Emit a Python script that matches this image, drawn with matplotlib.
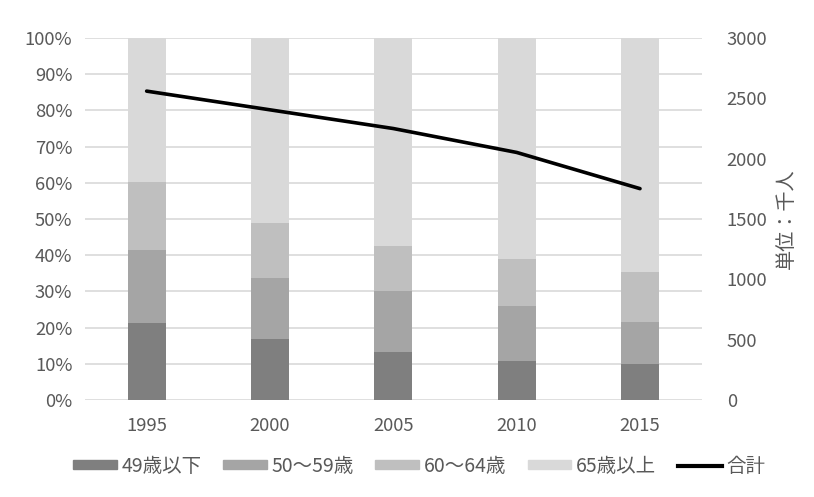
import numpy as np
import matplotlib.pyplot as plt
from matplotlib.patches import Patch
from matplotlib.lines import Line2D
from matplotlib.ticker import PercentFormatter

plt.rcParams['font.family'] = ['Noto Sans CJK JP', 'DejaVu Sans']

# データ
years = ["1995", "2000", "2005", "2010", "2015"]
share_49 = [21.3, 16.8, 13.2, 10.8, 10.1]
share_50_59 = [20.1, 17.0, 16.9, 15.1, 11.4]
share_60_64 = [18.7, 15.0, 12.4, 13.0, 13.9]
share_65 = [39.9, 51.2, 57.5, 61.1, 64.6]
total = [2560, 2405, 2250, 2052, 1752]

labels = ["49歳以下", "50～59歳", "60～64歳", "65歳以上"]
colors = ["#7f7f7f", "#a5a5a5", "#bfbfbf", "#d9d9d9"]
txt = "#595959"

fig = plt.figure(figsize=(8.14, 4.97), dpi=100)
ax = fig.add_axes([0.1044, 0.195, 0.7576, 0.7285])
x = np.arange(len(years))

bottom = np.zeros(len(years))
for vals, c in zip([share_49, share_50_59, share_60_64, share_65], colors):
    v = np.array(vals) / 100
    ax.bar(x, v, 0.31, bottom=bottom, color=c, zorder=2)
    bottom += v

ax.set_ylim(0, 1)
ax.set_xlim(-0.5, len(years) - 0.5)
ax.set_yticks(np.arange(0, 1.01, 0.1))
ax.yaxis.set_major_formatter(PercentFormatter(1.0, decimals=0))
ax.set_xticks(x)
ax.set_xticklabels(years)
ax.grid(axis="y", color="#d9d9d9", lw=1.2)
ax.set_axisbelow(True)

ax2 = ax.twinx()
ax2.plot(x, total, color="black", lw=2.6, solid_capstyle="round", zorder=3)
ax2.set_ylim(0, 3000)
ax2.set_yticks(np.arange(0, 3001, 500))
ax2.set_ylabel("単位：千人", color=txt, fontsize=14.5, labelpad=6)

for a in (ax, ax2):
    for s in a.spines.values():
        s.set_visible(False)
    a.tick_params(length=0, labelsize=13.3, labelcolor=txt)
ax.tick_params(axis="y", pad=9)
ax.tick_params(axis="x", pad=12)
ax2.tick_params(axis="y", pad=18)

handles = [Patch(color=c) for c in colors] + [Line2D([], [], color="black", lw=3)]
fig.legend(handles, labels + ["合計"], loc="center", bbox_to_anchor=(0.515, 0.062),
           ncol=5, frameon=False, fontsize=14, labelcolor=txt,
           handlelength=2.25, handleheight=0.37, handletextpad=0.25, columnspacing=1.1)

fig.savefig("out.png", dpi=100)
